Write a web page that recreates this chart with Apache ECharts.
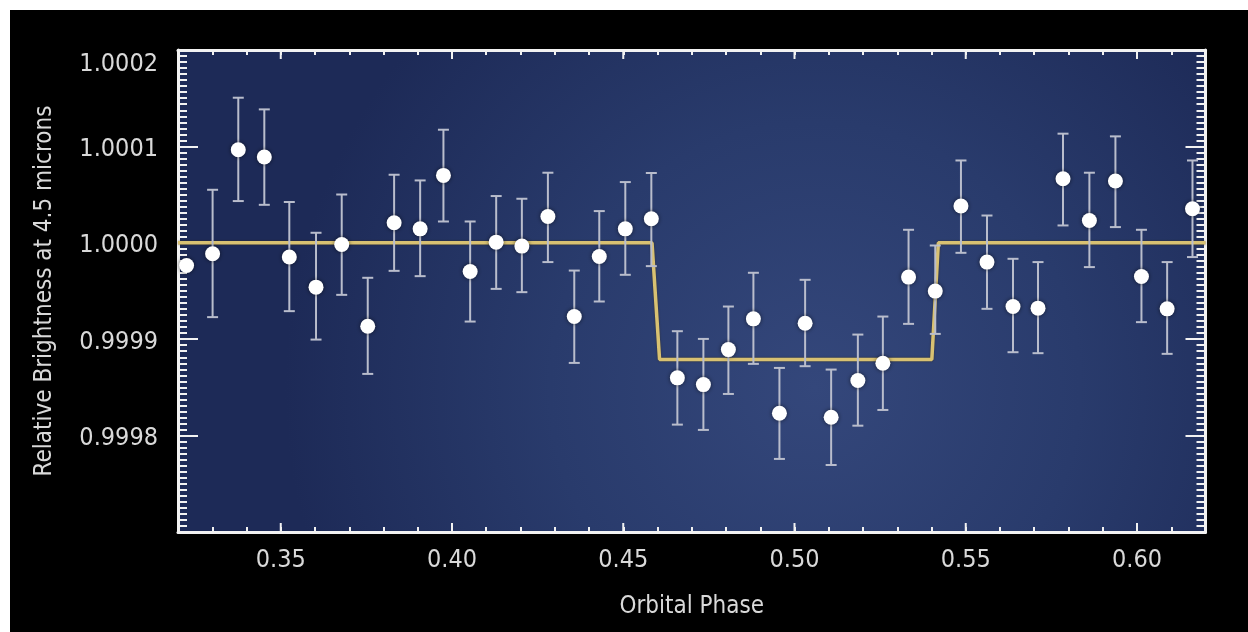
<!DOCTYPE html>
<html>
<head>
<meta charset="utf-8">
<script src="https://cdn.jsdelivr.net/npm/echarts@6/dist/echarts.min.js"></script>
<style>
html,body{margin:0;padding:0;background:#ffffff;width:1248px;height:632px;overflow:hidden;}
#chart{position:absolute;left:10px;top:10px;width:1238px;height:622px;background:#000;}
</style>
</head>
<body>
<div id="chart"></div>
<script>
// ---- data ----
const phase = [0.3225,0.3301,0.3376,0.3452,0.3525,0.3603,0.3678,0.3754,0.3831,0.3907,
               0.3975,0.4053,0.4129,0.4204,0.4280,0.4357,0.4430,0.4506,0.4582,0.4658,
               0.4734,0.4807,0.4880,0.4956,0.5031,0.5107,0.5185,0.5258,0.5333,0.5411,
               0.5486,0.5562,0.5638,0.5711,0.5784,0.5861,0.5937,0.6013,0.6088,0.6162];
const brightness = [0.9999764,0.9999886,1.0000965,1.0000890,0.9999852,0.9999540,0.9999982,0.9999135,1.0000208,1.0000145,
                    1.0000699,0.9999702,1.0000007,0.9999966,1.0000273,0.9999235,0.9999858,1.0000145,1.0000249,0.9998599,
                    0.9998529,0.9998892,0.9999211,0.9998232,0.9999166,0.9998191,0.9998571,0.9998751,0.9999644,0.9999499,
                    1.0000381,0.9999800,0.9999339,0.9999322,1.0000664,1.0000231,1.0000641,0.9999650,0.9999315,1.0000353];
// first point: its error bar is not visible in the reference (hidden at the frame)
const errHigh = [null,1.0000550,1.0001505,1.0001384,1.0000423,1.0000104,1.0000501,0.9999637,1.0000706,1.0000647,
                 1.0001173,1.0000221,1.0000485,1.0000457,1.0000727,0.9999712,1.0000329,1.0000630,1.0000724,0.9999083,
                 0.9999003,0.9999339,0.9999689,0.9998702,0.9999616,0.9998685,0.9999048,0.9999235,1.0000135,0.9999972,
                 1.0000854,1.0000283,0.9999834,0.9999800,1.0001132,1.0000727,1.0001104,1.0000135,0.9999800,1.0000854];
const errLow = [null,0.9999229,1.0000433,1.0000394,0.9999291,0.9998996,0.9999460,0.9998640,0.9999709,0.9999654,
                1.0000221,0.9999183,0.9999522,0.9999488,0.9999800,0.9998754,0.9999391,0.9999668,0.9999758,0.9998114,
                0.9998059,0.9998432,0.9998744,0.9997758,0.9998720,0.9997695,0.9998103,0.9998266,0.9999159,0.9999055,
                0.9999896,0.9999315,0.9998865,0.9998855,1.0000180,0.9999748,1.0000163,0.9999177,0.9998848,0.9999852];
const modelPhase = [0.32, 0.4584, 0.4606, 0.5401, 0.5420, 0.62];
const modelLevel = [1.0000, 1.0000, 0.999879, 0.999879, 1.0000, 1.0000];
const majorXTicks = [0.35, 0.40, 0.45, 0.50, 0.55, 0.60];
const xTitle = 'Orbital Phase';
const yTitle = 'Relative Brightness at 4.5 microns';

// ---- axis ranges ----
const X_MIN = 0.32, X_MAX = 0.62, X_STEP = 0.01;
const Y_MIN = 0.9997, Y_MAX = 1.0002, Y_STEP = 0.0001;

const FONT = '"DejaVu Sans Condensed", "DejaVu Sans", sans-serif';
const LABEL_COLOR = '#d9d9d9';
const FRAME = '#f2f2f2';

const chart = echarts.init(document.getElementById('chart'), null, {renderer: 'canvas'});

function xLabel(v) {
  const k = Math.round(v * 100);
  return (k % 5 === 0) ? (k / 100).toFixed(2) : '';
}
function yLabel(v) {
  const s = v.toFixed(4);
  if (Math.abs(v - Y_MAX) < 1e-9) return '{t|' + s + '}';
  return '{n|' + s + '}';
}

const labelRich = {
  t: {fontFamily: FONT, fontSize: 25, color: LABEL_COLOR, padding: [29, 0, 0, 0]},
  n: {fontFamily: FONT, fontSize: 25, color: LABEL_COLOR, padding: [6, 0, 0, 0]}
};

const frameLine = {show: true, onZero: false, lineStyle: {color: FRAME, width: 3}};

const option = {
  backgroundColor: '#000000',
  animation: false,
  grid: {
    left: 168, top: 40, width: 1027.5, height: 482,
    show: true, borderWidth: 0,
    backgroundColor: new echarts.graphic.RadialGradient(0.62, 0.7, 1.1, [
      {offset: 0, color: '#34477b'},
      {offset: 0.5, color: '#293b6c'},
      {offset: 1, color: '#1d2a57'}
    ])
  },
  xAxis: [
    {
      type: 'value', position: 'bottom', min: X_MIN, max: X_MAX, interval: X_STEP,
      axisLine: frameLine,
      axisTick: {show: true, inside: true, length: 5, lineStyle: {color: FRAME, width: 2}},
      axisLabel: {show: true, formatter: xLabel, margin: 16, color: LABEL_COLOR, fontFamily: FONT, fontSize: 25,
                  showMinLabel: false, showMaxLabel: false},
      splitLine: {show: false},
      name: xTitle, nameLocation: 'middle', nameGap: 63,
      nameTextStyle: {color: LABEL_COLOR, fontFamily: FONT, fontSize: 24}
    },
    {
      type: 'value', position: 'top', min: X_MIN, max: X_MAX, interval: X_STEP,
      axisLine: frameLine,
      axisTick: {show: true, inside: true, length: 5, lineStyle: {color: FRAME, width: 2}},
      axisLabel: {show: false},
      splitLine: {show: false}
    }
  ],
  yAxis: [
    {
      type: 'value', position: 'left', min: Y_MIN, max: Y_MAX, interval: Y_STEP,
      axisLine: frameLine,
      axisTick: {show: true, inside: true, length: 20, lineStyle: {color: FRAME, width: 2}},
      minorTick: {show: true, splitNumber: 16, length: 9, lineStyle: {color: FRAME, width: 2}},
      axisLabel: {show: true, formatter: yLabel, rich: labelRich, margin: 20, showMinLabel: false},
      splitLine: {show: false},
      name: yTitle, nameLocation: 'middle', nameGap: 121,
      nameTextStyle: {color: LABEL_COLOR, fontFamily: FONT, fontSize: 24}
    },
    {
      type: 'value', position: 'right', min: Y_MIN, max: Y_MAX, interval: Y_STEP,
      axisLine: frameLine,
      axisTick: {show: true, inside: true, length: 20, lineStyle: {color: FRAME, width: 2}},
      minorTick: {show: true, splitNumber: 16, length: 9, lineStyle: {color: FRAME, width: 2}},
      axisLabel: {show: false},
      splitLine: {show: false}
    }
  ],
  series: [
    {
      // longer ticks at labelled phases (bottom and top edges)
      type: 'custom', xAxisIndex: 0, yAxisIndex: 0, silent: true, z: 5,
      data: majorXTicks.map(v => [v, Y_MIN]),
      renderItem: function (params, api) {
        const x = api.value(0);
        const b = api.coord([x, Y_MIN]);
        const t = api.coord([x, Y_MAX]);
        const st = {stroke: FRAME, lineWidth: 2};
        return {type: 'group', children: [
          {type: 'line', shape: {x1: b[0], y1: b[1], x2: b[0], y2: b[1] - 9}, style: st},
          {type: 'line', shape: {x1: t[0], y1: t[1], x2: t[0], y2: t[1] + 9}, style: st}
        ]};
      }
    },
    {
      type: 'line', xAxisIndex: 0, yAxisIndex: 0, z: 2,
      data: modelPhase.map((p, i) => [p, modelLevel[i]]),
      showSymbol: false, symbol: 'none',
      lineStyle: {color: '#d8c172', width: 3.5, shadowColor: 'rgba(60,40,0,0.6)', shadowBlur: 2}
    },
    {
      type: 'custom', xAxisIndex: 0, yAxisIndex: 0, z: 3,
      data: phase.map((p, i) => [p, errLow[i], errHigh[i]]).filter(d => d[1] !== null),
      encode: {x: 0, y: [1, 2]},
      renderItem: function (params, api) {
        const x = api.value(0);
        const lo = api.coord([x, api.value(1)]);
        const hi = api.coord([x, api.value(2)]);
        const half = 5.5;
        const st = {stroke: '#b9bdcc', lineWidth: 2};
        return {type: 'group', children: [
          {type: 'line', shape: {x1: lo[0], y1: lo[1], x2: hi[0], y2: hi[1]}, style: st},
          {type: 'line', shape: {x1: lo[0] - half, y1: lo[1], x2: lo[0] + half, y2: lo[1]}, style: st},
          {type: 'line', shape: {x1: hi[0] - half, y1: hi[1], x2: hi[0] + half, y2: hi[1]}, style: st}
        ]};
      }
    },
    {
      type: 'scatter', xAxisIndex: 0, yAxisIndex: 0, z: 4,
      data: phase.map((p, i) => [p, brightness[i]]),
      symbol: 'circle', symbolSize: 15,
      itemStyle: {color: '#ffffff', opacity: 1, shadowColor: 'rgba(0,0,0,0.55)', shadowBlur: 4}
    }
  ]
};

chart.setOption(option);
</script>
</body>
</html>
